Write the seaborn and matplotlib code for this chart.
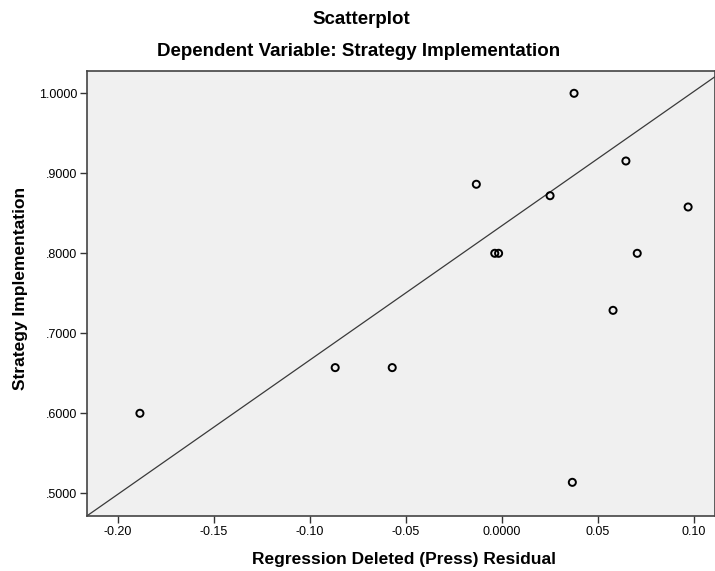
import numpy as np
import pandas as pd
import seaborn as sns
import matplotlib.pyplot as plt

press_resid = [0.0377, -0.0132, 0.0252, 0.0647, 0.0971, -0.0036, -0.0016,
               0.0706, 0.0580, -0.1884, -0.0867, -0.0570, 0.0368]
strategy_impl = [1.0000, 0.8863, 0.8720, 0.9154, 0.8579, 0.8000, 0.8000,
                 0.8000, 0.7287, 0.6000, 0.6571, 0.6571, 0.5137]

# fit line drawn across the plot
fit_intercept = 0.8343
fit_slope = 1.6785

x_ticks = [-0.20, -0.15, -0.10, -0.05, 0.0, 0.05, 0.10]
x_tick_labels = ['-0.20', '-0.15', '-0.10', '-0.05', '0.0000', '0.05', '0.10']
y_ticks = [0.5, 0.6, 0.7, 0.8, 0.9, 1.0]
y_tick_labels = ['.5000', '.6000', '.7000', '.8000', '.9000', '1.0000']

df = pd.DataFrame({'resid': press_resid, 'y': strategy_impl})

sns.set_style('white')
plt.rcParams['font.family'] = ['Liberation Sans', 'DejaVu Sans']
plt.rcParams['text.color'] = 'black'
plt.rcParams['axes.labelcolor'] = 'black'
plt.rcParams['xtick.color'] = 'black'
plt.rcParams['ytick.color'] = 'black'

fig = plt.figure(figsize=(7.15, 5.71), dpi=100)
ax = fig.add_axes([0.1213, 0.0963, 0.8787, 0.7802])
ax.set_facecolor('#f0f0f0')

ax.axline((0, fit_intercept), slope=fit_slope, color='#3a3a3a', linewidth=0.9, zorder=1)
sns.scatterplot(data=df, x='resid', y='y', ax=ax, s=26, facecolor='none',
                edgecolor='black', linewidth=1.4, zorder=3, legend=False)

ax.set_xlim(-0.2161, 0.1111)
ax.set_ylim(0.4716, 1.0285)

ax.set_xticks(x_ticks)
ax.set_xticklabels(x_tick_labels)
ax.set_yticks(y_ticks)
ax.set_yticklabels(y_tick_labels)
ax.tick_params(axis='both', direction='out', length=5, width=1, color='#333333',
               labelcolor='black', labelsize=9, pad=2, left=True, bottom=True)

for side in ['left', 'bottom', 'top', 'right']:
    ax.spines[side].set_color('#444444')
    ax.spines[side].set_linewidth(1.2)

ax.set_xlabel('Regression Deleted (Press) Residual', fontsize=12.5, fontweight='bold')
ax.set_ylabel('Strategy Implementation', fontsize=12.5, fontweight='bold')
ax.xaxis.set_label_coords(0.505, -0.08)
ax.yaxis.set_label_coords(-0.094, 0.51)

fig.text(0.506, 0.965, 'Scatterplot', ha='center', va='center', fontsize=13.5, fontweight='bold')
fig.text(0.502, 0.909, 'Dependent Variable: Strategy Implementation', ha='center', va='center',
         fontsize=13.5, fontweight='bold')

fig.savefig('out.png', dpi=100)
